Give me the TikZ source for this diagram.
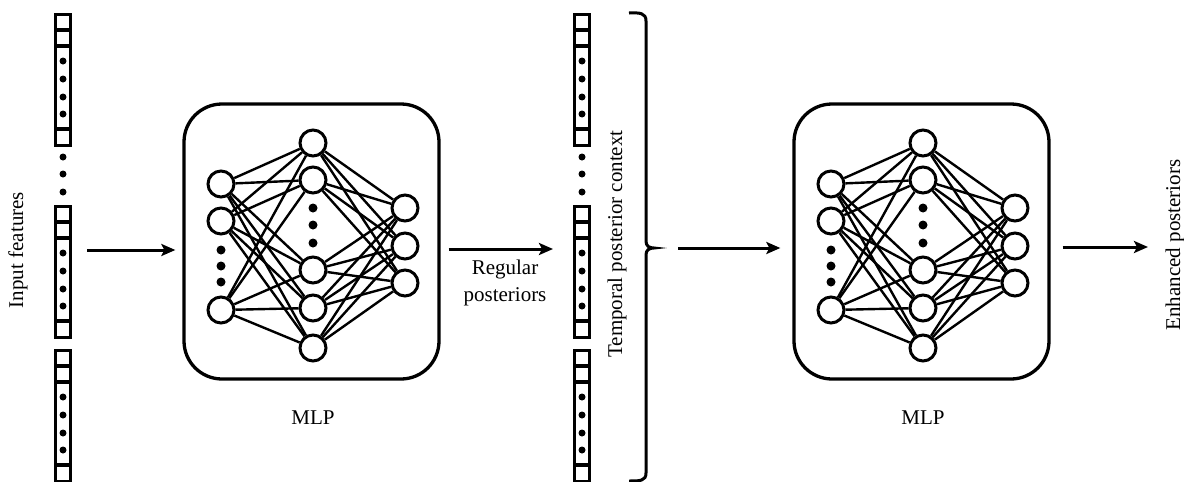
\documentclass[tikz,border=0pt]{standalone}
\usepackage{fontspec}
\setmainfont{Liberation Serif}
\usetikzlibrary{arrows.meta,calc}
\newcommand\featblock[3]{%
  \draw[cellline] (#1+1.7,#2+1.7) rectangle (#1+16.3,#2+132.3);
  \draw[cellline] (#1+1.7,#2+17) -- (#1+16.3,#2+17);
  \draw[cellline] (#1+1.7,#2+33) -- (#1+16.3,#2+33);
  \draw[cellline] (#1+1.7,#2+116) -- (#1+16.3,#2+116);
  \foreach \d/\dy in {1/48,2/66,3/84,4/101}
    \node[cdot] (#3d\d) at (#1+9,#2+\dy) {};
}
\begin{document}
\begin{tikzpicture}[x=1pt,y=-1pt,
  neuron/.style={circle,draw,line width=3pt,minimum size=26pt,inner sep=0pt,fill=white},
  ndot/.style={circle,fill,inner sep=0pt,minimum size=9pt},
  cdot/.style={circle,fill,inner sep=0pt,minimum size=7pt},
  conn/.style={line width=2.4pt},
  mlpbox/.style={draw,line width=3.3pt,rounded corners=38pt,minimum width=255pt,minimum height=275pt,inner sep=0pt},
  arr/.style={line width=3pt,-{Stealth[length=14pt,width=12pt,inset=3pt]}},
  cellline/.style={line width=3.4pt},
  lab/.style={font=\fontsize{21}{27}\selectfont,inner sep=0pt},
]
\useasboundingbox (0,0) rectangle (1184,482);
% feature columns
\foreach \c/\cx in {L/54,M/573} {
  \featblock{\cx}{13}{\c a}
  \featblock{\cx}{205}{\c b}
  \featblock{\cx}{349}{\c c}
  \foreach \g/\gy in {1/157,2/174,3/192}
    \node[cdot] (\c g\g) at (\cx+9,\gy) {};
}
% MLP blocks
\foreach \b/\ox in {1/0,2/610} {
  \node[mlpbox] (box\b) at (311.5+\ox,241.5) {};
  \node[lab] (mlp\b) at (313+\ox,418) {MLP};
  \foreach \i/\y in {1/184,2/221,3/310}
    \node[neuron] (i\b\i) at (221+\ox,\y) {};
  \foreach \i/\y in {1/143,2/180,3/270,4/308,5/348}
    \node[neuron] (h\b\i) at (313+\ox,\y) {};
  \foreach \i/\y in {1/208,2/246,3/283}
    \node[neuron] (o\b\i) at (405+\ox,\y) {};
  \foreach \i/\y in {1/250,2/266,3/282}
    \node[ndot] (id\b\i) at (221+\ox,\y) {};
  \foreach \i/\y in {1/208,2/225,3/243}
    \node[ndot] (hd\b\i) at (313+\ox,\y) {};
  \foreach \p in {1,2,3} \foreach \q in {1,...,5}
    \draw[conn] (i\b\p) -- (h\b\q);
  \foreach \p in {1,...,5} \foreach \q in {1,2,3}
    \draw[conn] (h\b\p) -- (o\b\q);
}
% brace
\draw[line width=3pt] (629,13) .. controls (640,12.5) and (646,13) .. (646,21)
  -- (646,241) .. controls (646,246) and (649,248) .. (654,248)
  .. controls (649,248) and (646,250) .. (646,255)
  -- (646,473) .. controls (646,481) and (640,481) .. (629,481);
% labels
\node[lab,rotate=90] (inlab) at (18,250) {Input features};
\node[lab,rotate=90] (tpc) at (617,244) {Temporal posterior context};
\node[lab,rotate=90] (enh) at (1175,245) {Enhanced posteriors};
\node[lab,align=center] (reg) at (505,283) {Regular\\posteriors};
% arrows
\coordinate (a1s) at (87,250);
\draw[arr,shorten >=7pt] (a1s) -- (a1s -| box1.west);
\coordinate (a2e) at (553,249);
\draw[arr,shorten <=8pt] (a2e -| box1.east) -- (a2e);
\coordinate (a3s) at (678,248);
\draw[arr,shorten >=12pt] (a3s) -- (a3s -| box2.west);
\coordinate (a4e) at (1148,247);
\draw[arr,shorten <=12pt] (a4e -| box2.east) -- (a4e);
\end{tikzpicture}
\end{document}
